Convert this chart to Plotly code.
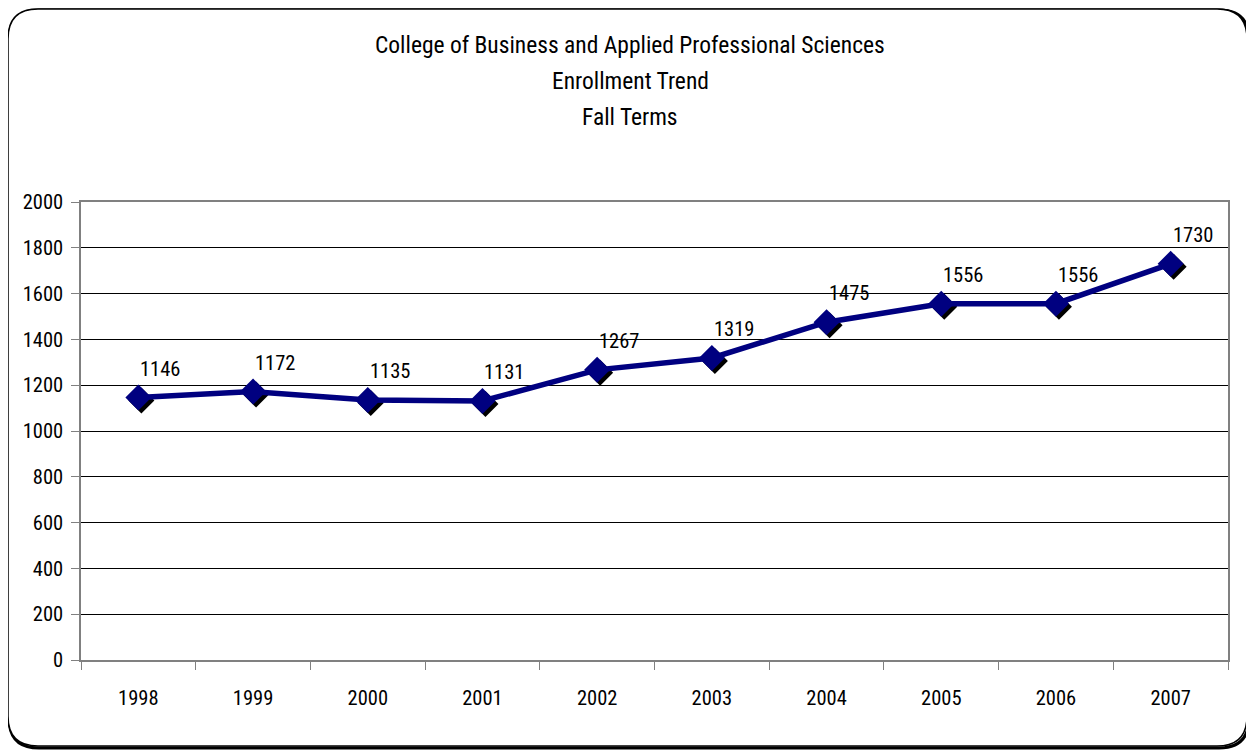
import plotly.graph_objects as go

YEARS = ["1998", "1999", "2000", "2001", "2002", "2003", "2004", "2005", "2006", "2007"]
ENROLLMENT = [1146, 1172, 1135, 1131, 1267, 1319, 1475, 1556, 1556, 1730]
TITLE_LINES = [
    "College of Business and Applied Professional Sciences",
    "Enrollment Trend",
    "Fall Terms",
]

# the page body adds an 8px margin, so the figure is sized to fill what is left
PAGE_OFF = 8
W, H = 1254 - PAGE_OFF, 755 - PAGE_OFF
PLOT_L, PLOT_R, PLOT_T, PLOT_B = 81, 1228, 202, 660  # page pixels
PW, PH = PLOT_R - PLOT_L, PLOT_B - PLOT_T
Y_MAX = 2000
FONT = "Roboto Condensed, DejaVu Sans Condensed, sans-serif"
NAVY = "#000080"
SHADOW_PX = 3


def fx(px):
    return (px - PLOT_L) / PW


def fy(py):
    return (PLOT_B - py) / PH


def rounded_box(x0, y0, x1, y1, r):
    pts = [
        f"M {fx(x0 + r)},{fy(y0)}",
        f"L {fx(x1 - r)},{fy(y0)}",
        f"Q {fx(x1)},{fy(y0)} {fx(x1)},{fy(y0 + r)}",
        f"L {fx(x1)},{fy(y1 - r)}",
        f"Q {fx(x1)},{fy(y1)} {fx(x1 - r)},{fy(y1)}",
        f"L {fx(x0 + r)},{fy(y1)}",
        f"Q {fx(x0)},{fy(y1)} {fx(x0)},{fy(y1 - r)}",
        f"L {fx(x0)},{fy(y0 + r)}",
        f"Q {fx(x0)},{fy(y0)} {fx(x0 + r)},{fy(y0)}",
        "Z",
    ]
    return " ".join(pts)


n = len(YEARS)
cat_px = PW / n
dx = SHADOW_PX / cat_px
dy = SHADOW_PX * Y_MAX / PH

fig = go.Figure()

# invisible trace so the main axes know the categories (grid, ticks, labels)
fig.add_trace(
    go.Scatter(
        x=YEARS, y=ENROLLMENT, mode="markers", marker={"opacity": 0},
        hoverinfo="skip", showlegend=False,
    )
)
# shadow markers on an overlay axis shifted a few pixels right/down
fig.add_trace(
    go.Scatter(
        x=YEARS, y=ENROLLMENT, xaxis="x2", yaxis="y2",
        mode="markers",
        marker={"symbol": "diamond", "size": 20, "color": "black", "line": {"width": 0}},
        hoverinfo="skip", showlegend=False,
    )
)
fig.add_trace(
    go.Scatter(
        x=YEARS, y=ENROLLMENT, xaxis="x3", yaxis="y3",
        mode="lines+markers",
        line={"color": NAVY, "width": 5.5},
        marker={"symbol": "diamond", "size": 20, "color": NAVY, "line": {"width": 0}},
        showlegend=False,
    )
)

# numeric years would be read as numbers, so labels sit on the category index
for i, val in enumerate(ENROLLMENT):
    fig.add_annotation(
        x=i, y=val, xref="x", yref="y", text=str(val), showarrow=False,
        xshift=22, yshift=29, font={"family": FONT, "size": 20.5, "color": "black"},
    )

for i, line in enumerate(TITLE_LINES):
    fig.add_annotation(
        x=fx(630), y=fy(45 + 36 * i), xref="paper", yref="paper",
        text=line, showarrow=False, yanchor="middle",
        font={"family": FONT, "size": 23.5, "color": "black"},
    )

fig.add_shape(
    type="path", xref="paper", yref="paper", layer="below",
    path=rounded_box(9, 10, 1249, 748, 30),
    line={"color": "black", "width": 3},
)
fig.add_shape(
    type="path", xref="paper", yref="paper", layer="below",
    path=rounded_box(8, 9, 1247, 746, 30),
    line={"color": "black", "width": 1.5}, fillcolor="white",
)

base_x = dict(
    type="category", categoryorder="array", categoryarray=YEARS,
    range=[-0.5, n - 0.5],
)
fig.update_layout(
    width=W, height=H,
    margin={
        "l": PLOT_L - PAGE_OFF, "r": W - (PLOT_R - PAGE_OFF),
        "t": PLOT_T - PAGE_OFF, "b": H - (PLOT_B - PAGE_OFF),
    },
    paper_bgcolor="white", plot_bgcolor="rgba(0,0,0,0)",
    font={"family": FONT, "size": 20, "color": "black"},
    xaxis=dict(
        **base_x,
        showgrid=False, showline=True, mirror=True, linecolor="#808080", linewidth=1.5,
        ticks="outside", tickson="boundaries", ticklen=8, tickcolor="#808080",
        ticklabelstandoff=19, tickfont={"size": 20.5},
    ),
    yaxis=dict(
        range=[0, Y_MAX], dtick=200, showgrid=True, gridcolor="black", gridwidth=1,
        showline=True, mirror=True, linecolor="#808080", linewidth=1.5,
        ticks="outside", ticklen=8, tickcolor="#808080",
        ticklabelstandoff=4, tickfont={"size": 20.5}, zeroline=False,
    ),
    xaxis2=dict(
        type="category", categoryorder="array", categoryarray=YEARS,
        range=[-0.5 - dx, n - 0.5 - dx], overlaying="x", visible=False,
    ),
    yaxis2=dict(range=[dy, Y_MAX + dy], overlaying="y", visible=False),
    xaxis3=dict(**base_x, overlaying="x", visible=False),
    yaxis3=dict(range=[0, Y_MAX], overlaying="y", visible=False),
)

fig.write_html("out.html")
